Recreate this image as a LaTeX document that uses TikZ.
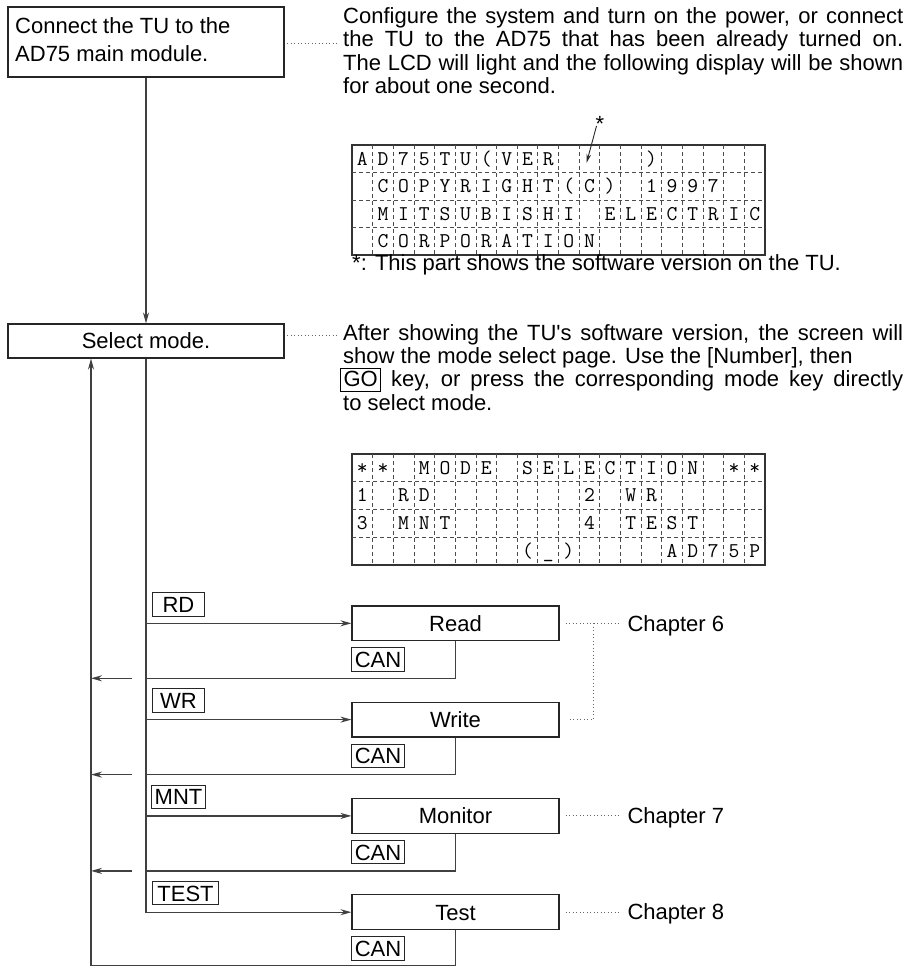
\documentclass[tikz,border=0pt]{standalone}
\usepackage{fontspec}
\setmainfont{Liberation Sans}
\usetikzlibrary{arrows.meta}
\newcommand{\bodyfont}{\fontsize{22}{23.3}\selectfont}
\newcommand{\lcdfont}{\fontsize{21}{21}\selectfont\ttfamily}
\newcommand{\gokey}{{\setlength{\fboxsep}{2pt}\setlength{\fboxrule}{1pt}\fbox{\makebox[35pt]{\rule[-2pt]{0pt}{16.5pt}GO}}}}
\newcommand{\lcdrow}[3]{%
  \foreach \i/\c in {#3}{\node[lcdch] (#1\i) at ({352+20.65*(\i+0.5)},{#2+6.3}) {\c};}}
\begin{document}
\begin{tikzpicture}[x=1pt,y=-1pt,font=\bodyfont,
  box/.style={draw=black!85,line width=1.1pt,inner sep=0pt},
  labbox/.style={box,text height=15.8pt,text depth=0pt},
  keybox/.style={draw=black!85,line width=1pt,inner xsep=3pt,inner ysep=3.8pt,text height=15.8pt,text depth=0pt,minimum width=51.6pt},
  conn/.style={draw=black!75,line width=1.3pt},
  arr/.style={conn,-{Stealth[length=11pt,width=6pt]}},
  dotl/.style={draw=black!60,line width=0.9pt,dash pattern=on 0.9pt off 2.6pt},
  lcdgrid/.style={draw=black!70,line width=0.8pt,dash pattern=on 4pt off 3pt},
  lcdframe/.style={draw=black!80,line width=1.1pt},
  txt/.style={anchor=base west,inner sep=0pt},
  lcdch/.style={font=\lcdfont,anchor=base,inner sep=0pt}]
\useasboundingbox[fill=white] (0,0) rectangle (910,967);

% --- top box
\node[box,minimum width=276pt,minimum height=70pt] (b1) at (146,42) {};
\node[txt] (b1t1) at (15,33.3) {Connect the TU to the};
\node[txt] (b1t2) at (15,61.7) {AD75 main module.};

% --- paragraph 1
\node[txt] (p1a) at (343,23.5) {\makebox[560pt][s]{Configure the system and turn on the power, or connect}};
\node[txt] (p1b) at (343,46.8) {\makebox[560pt][s]{the TU to the AD75 that has been already turned on.}};
\node[txt] (p1c) at (343,70.1) {\makebox[560pt][s]{The LCD will light and the following display will be shown}};
\node[txt] (p1d) at (343,93.4) {for about one second.};
\coordinate (d1s) at (287,43);
\coordinate (d1e) at (337,43);
\draw[dotl] (d1s) -- (d1e);

% --- LCD 1
\draw[lcdframe] (352,145) rectangle (765,255);
\foreach \i in {1,...,19} \draw[lcdgrid] ({352+20.65*\i},145) -- ({352+20.65*\i},255);
\foreach \r in {1,2,3} \draw[lcdgrid] (352,{145+27.5*\r}) -- (765,{145+27.5*\r});
\lcdrow{la}{158.75}{0/A,1/D,2/7,3/5,4/T,5/U,6/(,7/V,8/E,9/R,14/)}
\lcdrow{lb}{186.25}{1/C,2/O,3/P,4/Y,5/R,6/I,7/G,8/H,9/T,10/(,11/C,12/),14/1,15/9,16/9,17/7}
\lcdrow{lc}{213.75}{1/M,2/I,3/T,4/S,5/U,6/B,7/I,8/S,9/H,10/I,12/E,13/L,14/E,15/C,16/T,17/R,18/I,19/C}
\lcdrow{ld}{241.25}{1/C,2/O,3/R,4/P,5/O,6/R,7/A,8/T,9/I,10/O,11/N}
\node[anchor=base,inner sep=0pt] (ast) at (600,131) {*};
\coordinate (astS) at (596.5,126);
\coordinate (astT) at (586.5,163);
\draw[draw=black!85,line width=0.9pt,-{Stealth[length=9pt,width=4.5pt]}] (astS) -- (astT);
\node[txt] (note) at (352,270) {*: This part shows the software version on the TU.};

% --- select mode
\node[labbox,minimum width=276pt,minimum height=34pt] (sel) at (146,341) {Select mode.};
\draw[arr] (b1.south) -- (sel.north);

% --- paragraph 2
\node[txt] (p2a) at (343,340) {\makebox[560pt][s]{After showing the TU\textquotesingle s software version, the screen will}};
\node[txt] (p2b) at (343,363.3) {show the mode select page. Use the [Number], then};
\node[txt] (p2c) at (340,386.6) {\makebox[563pt][s]{\gokey\ key, or press the corresponding mode key directly}};
\node[txt] (p2d) at (343,410) {to select mode.};
\coordinate (d2s) at (287,335);
\coordinate (d2e) at (337,335);
\draw[dotl] (d2s) -- (d2e);

% --- LCD 2
\draw[lcdframe] (352,454) rectangle (765,565);
\foreach \i in {1,...,19} \draw[lcdgrid] ({352+20.65*\i},454) -- ({352+20.65*\i},565);
\foreach \r in {1,2,3} \draw[lcdgrid] (352,{454+27.75*\r}) -- (765,{454+27.75*\r});
\lcdrow{ma}{467.9}{0/*,1/*,3/M,4/O,5/D,6/E,8/S,9/E,10/L,11/E,12/C,13/T,14/I,15/O,16/N,18/*,19/*}
\lcdrow{mb}{495.6}{0/1,2/R,3/D,11/2,13/W,14/R}
\lcdrow{mc}{523.4}{0/3,2/M,3/N,4/T,11/4,13/T,14/E,15/S,16/T}
\lcdrow{md}{551.1}{8/(,9/\_,10/),15/A,16/D,17/7,18/5,19/P}

% --- mode boxes
\node[labbox,minimum width=207pt,minimum height=34.7pt] (read) at (455.5,623.3) {Read};
\node[labbox,minimum width=207pt,minimum height=34.7pt] (write) at (455.5,719.6) {Write};
\node[labbox,minimum width=207pt,minimum height=34.7pt] (monitor) at (455.5,815.9) {Monitor};
\node[labbox,minimum width=207pt,minimum height=34.7pt] (test) at (455.5,912.2) {Test};

\node[keybox] (kRD) at (178.5,604.3) {RD};
\node[keybox] (kWR) at (178.5,700.6) {WR};
\node[keybox] (kMNT) at (178.5,796.9) {MNT};
\node[keybox,minimum width=65.6pt] (kTEST) at (185.5,893.2) {TEST};

\node[keybox,minimum width=52pt] (can1) at (378,659.5) {CAN};
\node[keybox,minimum width=52pt] (can2) at (378,755.8) {CAN};
\node[keybox,minimum width=52pt] (can3) at (378,852.1) {CAN};
\node[keybox,minimum width=52pt] (can4) at (378,948.4) {CAN};

% --- trunk and branches
\draw[arr] (sel.south) |- (test.west);
\draw[arr] (read.west -| sel.south) -- (read.west);
\draw[arr] (write.west -| sel.south) -- (write.west);
\draw[arr] (monitor.west -| sel.south) -- (monitor.west);

% --- cancel returns
\coordinate (c1) at (146,678.3);
\coordinate (c2) at (146,774.6);
\coordinate (c3) at (146,870.9);
\draw[conn] (read.south) |- (c1);
\draw[conn] (write.south) |- (c2);
\draw[conn] (monitor.south) |- (c3);
\coordinate (retBot) at (91,965.5);
\coordinate (r1) at (132,678.3);
\coordinate (r2) at (132,774.6);
\coordinate (r3) at (132,870.9);
\draw[arr] (r1) -- (r1 -| retBot);
\draw[arr] (r2) -- (r2 -| retBot);
\draw[arr] (r3) -- (r3 -| retBot);
\draw[arr] (test.south) |- (retBot) -- (retBot |- sel.south);

% --- chapter references
\node[txt] (ch6) at (627.3,631) {Chapter 6};
\node[txt] (ch7) at (627.3,823.5) {Chapter 7};
\node[txt] (ch8) at (627.3,919.8) {Chapter 8};
\coordinate (d6e) at (620,623.3);
\coordinate (d6m) at (593.3,623.3);
\coordinate (d7e) at (620,815.9);
\coordinate (d8e) at (620,912.2);
\draw[dotl] ([xshift=6pt]read.east) -- (d6e);
\draw[dotl] (d6m) |- ([xshift=9pt]write.east);
\draw[dotl] ([xshift=6pt]monitor.east) -- (d7e);
\draw[dotl] ([xshift=6pt]test.east) -- (d8e);
\end{tikzpicture}
\end{document}
